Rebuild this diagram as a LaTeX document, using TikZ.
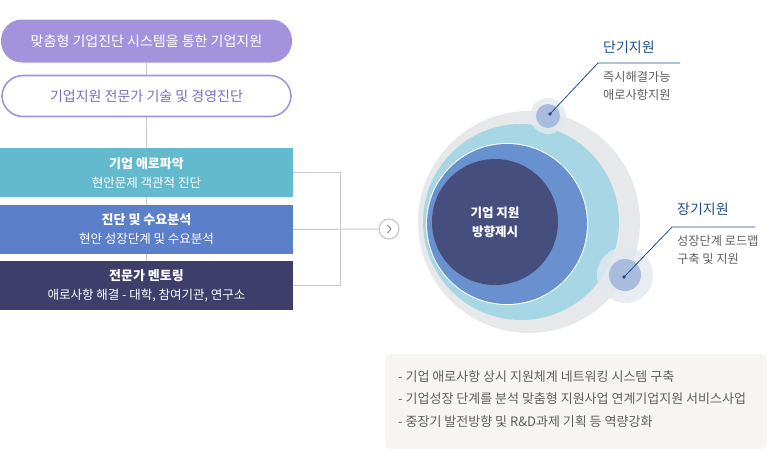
\documentclass[tikz,border=0pt]{standalone}
\usepackage{fontspec}
\setmainfont{Noto Sans CJK KR}
\usepackage{xcolor}
\usetikzlibrary{positioning}

\definecolor{pillpurple}{HTML}{A393DC}
\definecolor{pilltext}{HTML}{7D6CC0}
\definecolor{stepteal}{HTML}{63B9CD}
\definecolor{stepblue}{HTML}{5B7FC9}
\definecolor{stepnavy}{HTML}{3F3E6B}
\definecolor{linegray}{HTML}{C9C9C9}
\definecolor{ringgray}{HTML}{E7E8EA}
\definecolor{ringlight}{HTML}{A7D7E5}
\definecolor{ringmid}{HTML}{6990CF}
\definecolor{ringdark}{HTML}{464E7E}
\definecolor{spotblue}{HTML}{A9BCE0}
\definecolor{spothalo}{HTML}{E3E9EE}
\definecolor{leadblue}{HTML}{1E4F8A}
\definecolor{notegray}{HTML}{5F5F5F}
\definecolor{notebg}{HTML}{F6F5F4}

\tikzset{
  pill/.style={rounded corners=21pt, minimum width=291pt, minimum height=43pt,
    font=\fontsize{14}{16}\selectfont, inner sep=0pt},
  stepbox/.style={minimum width=293pt, minimum height=49pt, text=white,
    align=center, font=\fontsize{12.5}{19}\selectfont, inner sep=0pt},
  conn/.style={linegray, line width=1pt},
  leader/.style={leadblue, line width=0.8pt},
  phase/.style={anchor=west, text=leadblue, font=\fontsize{14}{16}\selectfont, inner sep=0pt},
  phasenote/.style={anchor=north west, text=notegray, align=left,
    font=\fontsize{12.2}{18}\selectfont, inner sep=0pt},
}

\begin{document}
\begin{tikzpicture}[x=1pt,y=-1pt]
  \useasboundingbox (0,0) rectangle (770,472);
  % left column
  \node[pill, fill=pillpurple, text=white] (goal) at (146.5,41) {맞춤형 기업진단 시스템을 통한 기업지원};
  \node[pill, draw=pillpurple, line width=1.6pt, fill=white, text=pilltext,
    minimum width=289pt, minimum height=41pt] (expert) at (146.5,96) {기업지원 전문가 기술 및 경영진단};
  \node[stepbox, fill=stepteal] (grasp) at (146.5,172.5) {{\bfseries\fontsize{13}{19}\selectfont 기업 애로파악}\\현안문제 객관적 진단};
  \node[stepbox, fill=stepblue] (demand) at (146.5,229.5) {{\bfseries\fontsize{13}{19}\selectfont 진단 및 수요분석}\\현안 성장단계 및 수요분석};
  \node[stepbox, fill=stepnavy] (mentor) at (146.5,285.5) {{\bfseries\fontsize{13}{19}\selectfont 전문가 멘토링}\\애로사항 해결 - 대학, 참여기관, 연구소};
  \draw[conn] (goal.south) -- (expert.north);
  \draw[conn] (expert.south) -- (grasp.north);
  \draw[conn] (grasp.south) -- (demand.north);
  \draw[conn] (demand.south) -- (mentor.north);
  % bracket to the arrow
  \node[circle, draw=linegray, line width=1.2pt, fill=white, minimum size=20pt, inner sep=0pt] (next) at (389,229) {};
  \draw[notegray!70, line width=1pt] ([xshift=-1.5pt,yshift=4pt]next.center) -- ([xshift=2pt]next.center) -- ([xshift=-1.5pt,yshift=-4pt]next.center);
  \draw[conn] (grasp.east) -- ++(47,0) |- (mentor.east);
  \draw[conn] (demand.east) -- (next.west);
  % circles
  \fill[ringgray] (529,222) circle (111);
  \fill[ringlight] (521,222) circle (98);
  \fill[white] (507,224) circle (81);
  \fill[ringmid] (507,224) circle (80);
  \fill[ringdark] (495,222) circle (63);
  \node[text=white, align=center, font=\bfseries\fontsize{12.5}{19}\selectfont] (core) at (495,222) {기업 지원\\방향제시};
  % short term spot
  \fill[spothalo, opacity=0.8] (548,116) circle (18);
  \fill[spotblue] (548,116) circle (12);
  \coordinate (sdot) at (550,114);
  \coordinate (sbend) at (598,63);
  \fill[leadblue] (sdot) circle (1.8);
  \draw[leader] (sdot) -- (sbend) -- ++(82,0);
  \node[phase] (short) at (603,47) {단기지원};
  \node[phasenote] (shortnote) at (603,71) {즉시해결가능\\애로사항지원};
  % long term spot
  \fill[spothalo, opacity=0.8] (625,275) circle (28);
  \fill[spotblue] (625,275) circle (16);
  \coordinate (ldot) at (624,277);
  \coordinate (lbend) at (672,227);
  \fill[leadblue] (ldot) circle (1.8);
  \draw[leader] (ldot) -- (lbend) -- ++(83,0);
  \node[phase] (long) at (677,209) {장기지원};
  \node[phasenote] (longnote) at (677,235) {성장단계 로드맵\\구축 및 지원};
  % note box
  \fill[notebg, rounded corners=6pt] (385,354) rectangle (767,449);
  \node[anchor=north west, text=notegray, align=left, inner sep=0pt,
    font=\fontsize{13}{22.5}\selectfont] (notes) at (398,370)
    {-\ 기업 애로사항 상시 지원체계 네트워킹 시스템 구축\\
     -\ 기업성장 단계를 분석 맞춤형 지원사업 연계기업지원 서비스사업\\
     -\ 중장기 발전방향 및 R\&D과제 기획 등 역량강화};
\end{tikzpicture}
\end{document}
